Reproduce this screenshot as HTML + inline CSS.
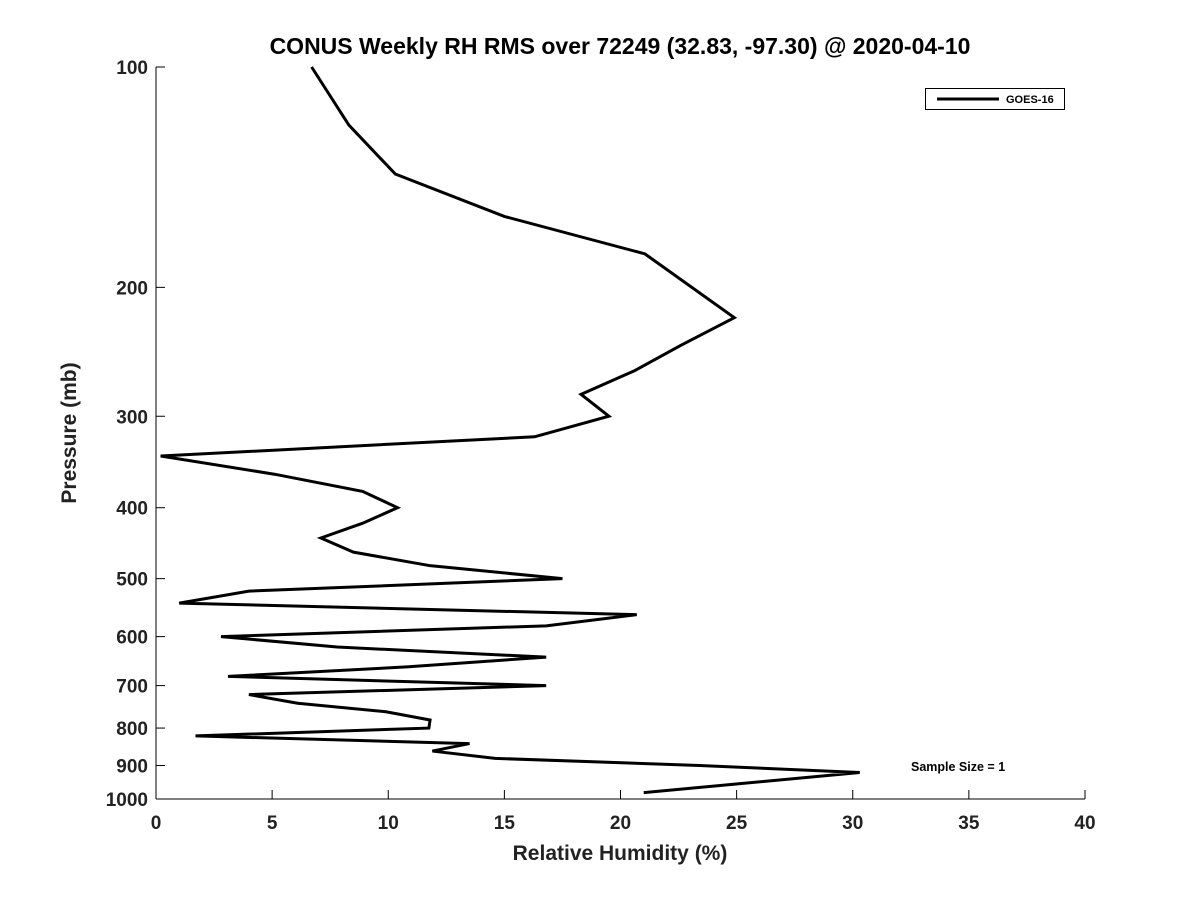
<!DOCTYPE html>
<html><head><meta charset="utf-8"><style>body{margin:0;background:#fff}svg{font-family:"Liberation Sans","DejaVu Sans",sans-serif}</style></head>
<body>
<svg id="c" width="1200" height="900"></svg>
<script>
const pressures=[100,120,140,160,180,220,240,260,280,300,320,340,360,380,400,420,440,460,480,500,520,540,560,580,600,620,640,660,680,700,720,740,760,780,800,820,840,860,880,900,920,980];
const rhValues=[6.7,8.3,10.3,15.0,21.05,24.9,22.6,20.6,18.3,19.5,16.3,0.2,5.1,8.9,10.4,8.9,7.1,8.5,11.8,17.5,4.0,1.0,20.7,16.8,2.8,7.8,16.8,10.8,3.1,16.8,4.0,6.1,9.9,11.8,11.75,1.7,13.5,11.9,14.6,23.4,30.3,21.0];
const xTicks=[0,5,10,15,20,25,30,35,40];
const yTicks=[100,200,300,400,500,600,700,800,900,1000];
const NS="http://www.w3.org/2000/svg",svg=document.getElementById('c');
const L=156,R=1085,T=67,B=799;
const xs=v=>L+v/40*(R-L);
const ys=p=>T+(Math.log10(p)-2)*(B-T);
function mk(t,a,txt){const e=document.createElementNS(NS,t);for(const k in a)e.setAttribute(k,a[k]);if(txt!==undefined)e.textContent=txt;svg.appendChild(e);return e;}
let e;
e=mk('line',{x1:L,y1:B,x2:R,y2:B,stroke:'#000','stroke-width':1});


e=mk('line',{x1:L,y1:T,x2:L,y2:B,stroke:'#000','stroke-width':1});


xTicks.forEach(v=>{const x=xs(v);
 e=mk('line',{x1:x,y1:B,x2:x,y2:B-9,stroke:'#000'});
 
 
 e=mk('text',{x:x,y:B+30,'text-anchor':'middle','font-size':19,'font-weight':'bold',fill:'#222'},v);
 
 });
yTicks.forEach(p=>{const y=ys(p);
 e=mk('line',{x1:L,y1:y,x2:L+9,y2:y,stroke:'#000'});
 
 
 e=mk('text',{x:L-8,y:y+7,'text-anchor':'end','font-size':19,'font-weight':'bold',fill:'#222'},p);
 
 });
e=mk('polyline',{points:pressures.map((p,i)=>xs(rhValues[i])+','+ys(p)).join(' '),fill:'none',stroke:'#000','stroke-width':3,'stroke-linejoin':'miter'});


e=mk('text',{x:620,y:54,'text-anchor':'middle','font-size':23,'font-weight':'bold'},'CONUS Weekly RH RMS over 72249 (32.83, -97.30) @ 2020-04-10');


e=mk('text',{x:620,y:860,'text-anchor':'middle','font-size':21,'font-weight':'bold',fill:'#222'},'Relative Humidity (%)');


e=mk('text',{x:0,y:0,'text-anchor':'middle','font-size':21,'font-weight':'bold',fill:'#222',transform:'translate(76,433) rotate(-90)'},'Pressure (mb)');


e=mk('rect',{x:925.5,y:88.5,width:139,height:21,fill:'#fff',stroke:'#000','stroke-width':1});


e=mk('line',{x1:937,y1:99,x2:999,y2:99,stroke:'#000','stroke-width':3});


e=mk('text',{x:1006,y:103,'font-size':11,'font-weight':'bold'},'GOES-16');


e=mk('text',{x:911,y:771,'font-size':12.5,'font-weight':'bold'},'Sample Size = 1');


</script>
</body></html>
